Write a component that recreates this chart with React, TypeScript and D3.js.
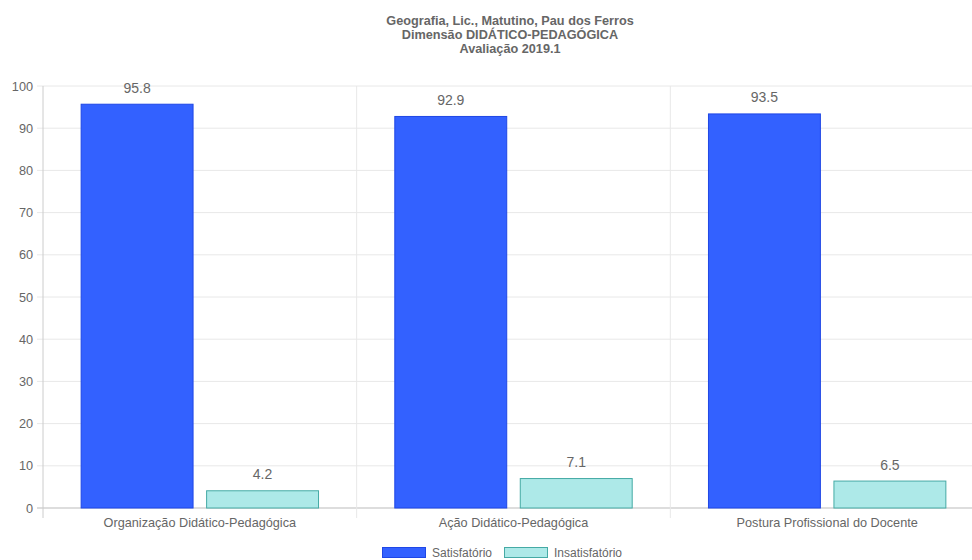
import React from "react";
import * as d3 from "d3";

const categories = ["Organização Didático-Pedagógica", "Ação Didático-Pedagógica", "Postura Profissional do Docente"];
const seriesNames = ["Satisfatório", "Insatisfatório"];
const satisfatorio = [95.8, 92.9, 93.5];
const insatisfatorio = [4.2, 7.1, 6.5];
const yTicks = [0, 10, 20, 30, 40, 50, 60, 70, 80, 90, 100];
const titleLines = ["Geografia, Lic., Matutino, Pau dos Ferros", "Dimensão DIDÁTICO-PEDAGÓGICA", "Avaliação 2019.1"];

const fills = ["#3361ff", "#ade9e8"];
const strokes = ["#1f47e6", "#45aaa5"];
const W = 972, H = 560;
const left = 43, right = 984, top = 86, bottom = 508;
const font = "'Liberation Sans', Arial, sans-serif";

export default function App() {
  const x0 = d3.scaleBand<string>().domain(categories).range([left, right]).paddingInner(0).paddingOuter(0);
  const x1 = d3.scaleBand<string>().domain(seriesNames).range([0, x0.bandwidth() * 0.8]).paddingInner(0.1).paddingOuter(0.05);
  const y = d3.scaleLinear().domain([0, 100]).range([bottom, top]);
  const series = [satisfatorio, insatisfatorio];
  const groupOffset = x0.bandwidth() * 0.1;

  const gridX = categories.map((c) => x0(c)!).concat([right]);

  return (
    <svg width={W} height={H} style={{ position: "absolute", left: 0, top: 0, background: "#fff" }}>
      <g fontFamily={font}>
        {titleLines.map((t, i) => (
          <text key={i} x={510} y={25 + i * 14} textAnchor="middle" fontSize={12.7} fontWeight="bold" fill="#666">{t}</text>
        ))}
        {yTicks.map((t) => (
          <g key={t}>
            <line x1={left - 6} x2={right} y1={y(t)} y2={y(t)} stroke={t === 0 ? "#bbb" : "#e8e8e8"} strokeWidth={1} />
            <text x={left - 10} y={y(t) + 4.5} textAnchor="end" fontSize={12.7} fill="#666">{t}</text>
          </g>
        ))}
        {gridX.map((gx, i) => (
          <line key={i} x1={gx} x2={gx} y1={top} y2={bottom + 10} stroke={i === 0 ? "#ccc" : "#e8e8e8"} strokeWidth={1} />
        ))}
        {categories.map((c, ci) => (
          <g key={c}>
            {series.map((vals, si) => {
              const bx = x0(c)! + groupOffset + x1(seriesNames[si])!;
              const bw = x1.bandwidth();
              const v = vals[ci];
              return (
                <g key={si}>
                  <rect x={bx + 0.5} y={y(v) + 0.5} width={bw - 1} height={bottom - y(v) - 0.5} fill={fills[si]} stroke={strokes[si]} strokeWidth={1} />
                  <text x={bx + bw / 2} y={y(v) - 11} textAnchor="middle" fontSize={14} fill="#666">{v.toFixed(1)}</text>
                </g>
              );
            })}
            <text x={x0(c)! + x0.bandwidth() / 2} y={527} textAnchor="middle" fontSize={12.7} fill="#666">{c}</text>
          </g>
        ))}
        {seriesNames.map((s, i) => {
          const lx = i === 0 ? 382 : 504;
          return (
            <g key={s}>
              <rect x={lx + 0.5} y={547.5} width={43} height={10} fill={fills[i]} stroke={strokes[i]} strokeWidth={1} />
              <text x={lx + 50} y={557} fontSize={12} fill="#666">{s}</text>
            </g>
          );
        })}
      </g>
    </svg>
  );
}
